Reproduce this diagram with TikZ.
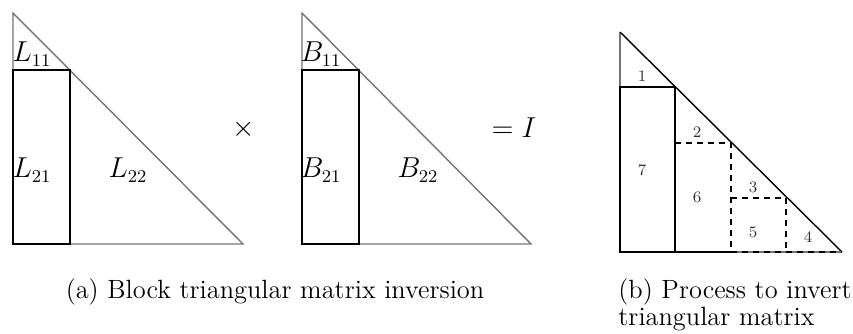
\documentclass[tikz,border=0pt]{standalone}
\usepackage{amsmath}
\begin{document}
\begin{tikzpicture}[x=0.5pt,y=-0.5pt,
  tri/.style={draw=black!55,line width=0.7pt},
  blk/.style={draw=black,line width=0.7pt},
  dsh/.style={draw=black,line width=0.6pt,dash pattern=on 3pt off 2.5pt},
  big/.style={inner sep=0pt,font=\fontsize{13.5}{16}\selectfont},
  num/.style={inner sep=0pt,font=\footnotesize,text=black!80},
  captxt/.style={inner sep=0pt,font=\fontsize{13.2}{16}\selectfont,anchor=base}]
\useasboundingbox (0,0) rectangle (853,333);
% (a) left triangle
\coordinate (lt) at (13,13); \coordinate (lr) at (243,244); \coordinate (lb) at (13,244);
\draw[tri] (lt) -- (lr) -- (lb) -- cycle;
\draw[tri] (13,70) -- (70,70);
\draw[blk] (13,70) rectangle (70,244);
\node[big] (l11) at (32,54) {$L_{11}$};
\node[big] (l21) at (32,170) {$L_{21}$};
\node[big] (l22) at (128,170) {$L_{22}$};
\node[big] (times) at (244,129) {$\times$};
% (a) right triangle
\coordinate (bt) at (302,13); \coordinate (br) at (531,244); \coordinate (bb) at (302,244);
\draw[tri] (bt) -- (br) -- (bb) -- cycle;
\draw[tri] (302,70) -- (359,70);
\draw[blk] (302,70) rectangle (359,244);
\node[big] (b11) at (321,54) {$B_{11}$};
\node[big] (b21) at (321,170) {$B_{21}$};
\node[big] (b22) at (418,170) {$B_{22}$};
\node[big] (eqI) at (514,128) {$=I$};
% (b)
\coordinate (pt) at (620,32); \coordinate (pr) at (842,252); \coordinate (pb) at (620,252);
\draw[tri] (pt) -- (pb);
\draw[blk] (pt) -- (pr);
\draw[blk] (620,87) rectangle (675,252);
\draw[blk] (675,87) -- (675,252) -- (731,252);
\draw[dsh] (675,143) -- (731,143) -- (731,252);
\draw[dsh] (731,198) -- (786,198) -- (786,252);
\draw[tri] (731,252) -- (pr);
\draw[dsh] (731,252) -- (pr);
\node[num] (n1) at (642,76) {1};
\node[num] (n2) at (697,132) {2};
\node[num] (n3) at (753,187) {3};
\node[num] (n4) at (808,237) {4};
\node[num] (n5) at (753,232) {5};
\node[num] (n6) at (697,197) {6};
\node[num] (n7) at (642,170) {7};
% captions
\node[captxt] (capa) at (275,298) {(a) Block triangular matrix inversion};
\node[captxt,anchor=base west] (capb1) at (618,298) {(b) Process to invert};
\node[captxt,anchor=base west] (capb2) at (618,325) {triangular matrix};
\end{tikzpicture}
\end{document}
